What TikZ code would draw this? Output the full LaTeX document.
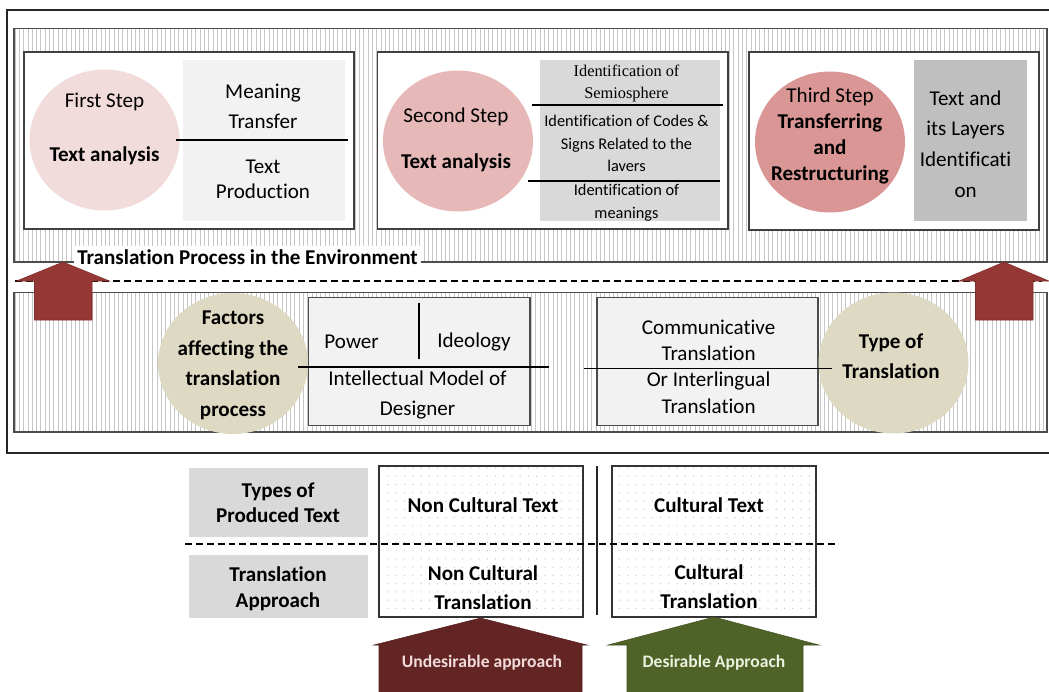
\documentclass[tikz,border=0pt]{standalone}
\usepackage{fontspec}
\setmainfont{Carlito}[Ligatures = NoCommon]
\newfontfamily\serifpart{Liberation Serif}[Ligatures = NoCommon]
\usetikzlibrary{shapes.geometric,fit,patterns}

\definecolor{stepOne}{HTML}{F2DCDB}
\definecolor{stepTwo}{HTML}{E6B9B8}
\definecolor{stepThree}{HTML}{D99694}
\definecolor{factorFill}{HTML}{DDD9C3}
\definecolor{paleGray}{HTML}{F2F2F2}
\definecolor{midGray}{HTML}{D9D9D9}
\definecolor{darkGray}{HTML}{BFBFBF}
\definecolor{envArrow}{HTML}{953735}
\definecolor{badArrow}{HTML}{632523}
\definecolor{goodArrow}{HTML}{4F6228}
\definecolor{badText}{HTML}{F2DCDB}
\definecolor{goodText}{HTML}{EBF1DE}

\pgfdeclarepatternformonly{env lines}{\pgfqpoint{-0.1pt}{-0.1pt}}{\pgfqpoint{2.55pt}{2.55pt}}{\pgfqpoint{2.45pt}{2.45pt}}%
{%
  \pgfsetlinewidth{0.45pt}%
  \pgfpathmoveto{\pgfqpoint{1.2pt}{-0.1pt}}%
  \pgfpathlineto{\pgfqpoint{1.2pt}{2.55pt}}%
  \pgfusepath{stroke}%
}
\pgfdeclarepatternformonly{text dots}{\pgfqpoint{-0.6pt}{-0.6pt}}{\pgfqpoint{0.6pt}{0.6pt}}{\pgfqpoint{4.7pt}{4.7pt}}%
{%
  \pgfpathcircle{\pgfqpoint{0pt}{0pt}}{0.4pt}%
  \pgfusepath{fill}%
}

\tikzset{
	band/.style = {draw = black!70, line width = 0.6pt, pattern = env lines, pattern color = gray!45, inner sep = 0pt},
	stepbox/.style = {draw = black!75, line width = 0.75pt, fill = white, inner sep = 0pt},
	tint/.style = {fill = #1, inner sep = 0pt},
	bubble/.style = {ellipse, fill = #1, minimum width = 3cm, minimum height = 2.82cm, inner sep = 0pt},
	factorbox/.style = {draw = black!70, line width = 0.75pt, fill = paleGray, inner sep = 0pt},
	textbox/.style = {draw = black!80, line width = 0.75pt, pattern = text dots, pattern color = gray!45, inner sep = 0pt},
	words/.style = {align = center, inner sep = 0pt, font = \fontsize{12}{#1}\selectfont},
	words/.default = 17,
	strong/.style = {align = center, inner sep = 0pt, font = \fontsize{12}{#1}\selectfont\bfseries},
	strong/.default = 17,
	finewords/.style = {align = center, inner sep = 0pt, font = \fontsize{9.3}{#1}\selectfont},
	finewords/.default = 13,
	split/.style = {draw = black, line width = 0.7pt},
	uparrow/.style = {fill = #1, draw = #1!85!black, line width = 0.3pt}
}

\begin{document}
\begin{tikzpicture}[x = 0.02cm, y = -0.02cm]
	\useasboundingbox ( 0, 0 ) rectangle ( 1049, 691 );
	% frame and the two environment bands
	\draw[line width = 1.2pt, black!85] ( 7, 10 ) rectangle ( 1060, 453 );
	\node[band, fit = {( 14, 28.5 ) ( 1047, 262 )}] (upperband) {};
	\node[band, fit = {( 14, 292.5 ) ( 1047, 432 )}] (lowerband) {};

	% first step
	\node[stepbox, fit = {( 24, 52 ) ( 354, 229 )}] (box1) {};
	\node[tint = paleGray, fit = {( 182.5, 60 ) ( 345, 221 )}] (gray1) {};
	\node[bubble = stepOne] (circle1) at ( 104.5, 140 ) {};
	\node[words] (firststep) at ( 104.5, 129 ) {First Step\\[13.6pt]\textbf{Text analysis}};
	\node[words] (transfer) at ( 263, 106 ) {Meaning\\Transfer};
	\node[words = 14.5] (production) at ( 263, 179.5 ) {Text\\Production};
	\draw[split] ( 176, 140 ) -- ( 347.5, 140 );

	% second step
	\node[stepbox, fit = {( 377.6, 52 ) ( 728, 229 )}] (box2) {};
	\node[tint = midGray, fit = {( 540, 60 ) ( 720, 221 )}] (gray2) {};
	\node[bubble = stepTwo] (circle2) at ( 458, 141 ) {};
	\node[words] (secondstep) at ( 456, 140 ) {Second Step\\[9pt]\textbf{Text analysis}};
	\node[finewords = 12.5, font = \serifpart\fontsize{9.3}{12.5}\selectfont] (semiosphere) at ( 626.5, 83 ) {Identification of\\Semiosphere};
	\node[finewords] (codes) at ( 626.5, 143.5 ) {Identification of Codes \&\\Signs Related to the\\lavers};
	\node[finewords] (meanings) at ( 626.5, 203 ) {Identification of\\meanings};
	\draw[split] ( 532, 105 ) -- ( 723, 105 );
	\draw[split] ( 528, 181 ) -- ( 720, 181 );

	% third step
	\node[stepbox, fit = {( 749, 52 ) ( 1039, 230 )}] (box3) {};
	\node[tint = darkGray, fit = {( 914, 60 ) ( 1027, 221 )}] (gray3) {};
	\node[bubble = stepThree] (circle3) at ( 830, 142 ) {};
	\node[words = 14.7] (thirdstep) at ( 830, 136 ) {Third Step\\\textbf{Transferring}\\\textbf{and}\\\textbf{Restructuring}};
	\node[words = 17.4] (layers) at ( 965.6, 144 ) {Text and\\its Layers\\Identificati\\on};

	\node[strong, fill = white, inner sep = 2pt, anchor = base] (envlabel) at ( 247.5, 264 ) {Translation Process in the Environment};
	\draw[line width = 0.8pt, dash pattern = on 3.9pt off 2.3pt] ( 15, 281 ) -- ( 1042, 281 );

	% factors and type of translation
	\node[bubble = factorFill] (factors) at ( 233, 363.5 ) {};
	\node[strong = 17.3] (factorstext) at ( 233, 365.3 ) {Factors\\affecting the\\translation\\process};
	\node[factorbox, fit = {( 308.7, 297.6 ) ( 530, 425.4 )}] (powerbox) {};
	\node[words] (power) at ( 351.6, 342 ) {Power};
	\node[words] (ideology) at ( 474, 341.6 ) {Ideology};
	\node[words] (model) at ( 417.5, 395 ) {Intellectual Model of\\Designer};
	\draw[split] ( 419, 302.7 ) -- ( 419, 359 );
	\draw[split] ( 297.5, 367 ) -- ( 548.7, 367 );
	\node[factorbox, fit = {( 597, 297.6 ) ( 818, 425.4 )}] (commbox) {};
	\node[words = 14.9] (communicative) at ( 708.6, 366.6 ) {Communicative\\Translation\\Or Interlingual\\Translation};
	\node[bubble = factorFill] (typecircle) at ( 893.5, 363 ) {};
	\node[strong = 16.7] (typetext) at ( 891, 356.3 ) {Type of\\Translation};
	\draw[split] ( 583.6, 368.6 ) -- ( 831.7, 368.6 );

	% arrows into the environment
	\draw[uparrow = envArrow] ( 63, 262 ) -- ( 109.5, 281 ) -- ( 92, 281 ) -- ( 92, 320 ) -- ( 34.5, 320 ) -- ( 34.5, 281 ) -- ( 16.5, 281 ) -- cycle;
	\draw[uparrow = envArrow] ( 1004, 262 ) -- ( 1049, 281 ) -- ( 1033, 281 ) -- ( 1033, 320 ) -- ( 975.5, 320 ) -- ( 975.5, 281 ) -- ( 959, 281 ) -- cycle;

	% produced text and approach
	\node[tint = midGray, fit = {( 189, 468 ) ( 368, 537 )}] (typesbox) {};
	\node[strong = 14.2] (types) at ( 278, 502.5 ) {Types of\\Produced Text};
	\node[tint = midGray, fit = {( 189, 555 ) ( 368, 618 )}] (approachbox) {};
	\node[strong = 14.7] (approach) at ( 278, 589 ) {Translation\\Approach};
	\node[textbox, fit = {( 379, 466 ) ( 583, 617 )}] (noncultural) {};
	\node[strong] (nonculturaltext) at ( 483, 505 ) {Non Cultural Text};
	\node[strong = 16.4] (noncommontrans) at ( 483, 587.5 ) {Non Cultural\\Translation};
	\node[textbox, fit = {( 612, 466 ) ( 816, 617 )}] (cultural) {};
	\node[strong] (culturaltext) at ( 709, 505 ) {Cultural Text};
	\node[strong = 16.4] (culturaltrans) at ( 709, 587 ) {Cultural\\Translation};
	\draw[line width = 1pt, black!85] ( 597, 466 ) -- ( 597, 615 );
	\draw[line width = 0.8pt, dash pattern = on 3.9pt off 2.3pt] ( 185, 544 ) -- ( 837, 544 );

	\draw[uparrow = badArrow] ( 480.5, 618 ) -- ( 587, 645 ) -- ( 582, 645 ) -- ( 582, 700 ) -- ( 379, 700 ) -- ( 379, 645 ) -- ( 374, 645 ) -- cycle;
	\node[font = \fontsize{10}{12}\selectfont\bfseries, text = badText] (undesirable) at ( 482, 663 ) {Undesirable approach};
	\draw[uparrow = goodArrow] ( 714, 617 ) -- ( 819, 645 ) -- ( 803, 645 ) -- ( 803, 700 ) -- ( 627, 700 ) -- ( 627, 645 ) -- ( 608, 645 ) -- cycle;
	\node[font = \fontsize{10}{12}\selectfont\bfseries, text = goodText] (desirable) at ( 714, 663 ) {Desirable Approach};
\end{tikzpicture}
\end{document}
